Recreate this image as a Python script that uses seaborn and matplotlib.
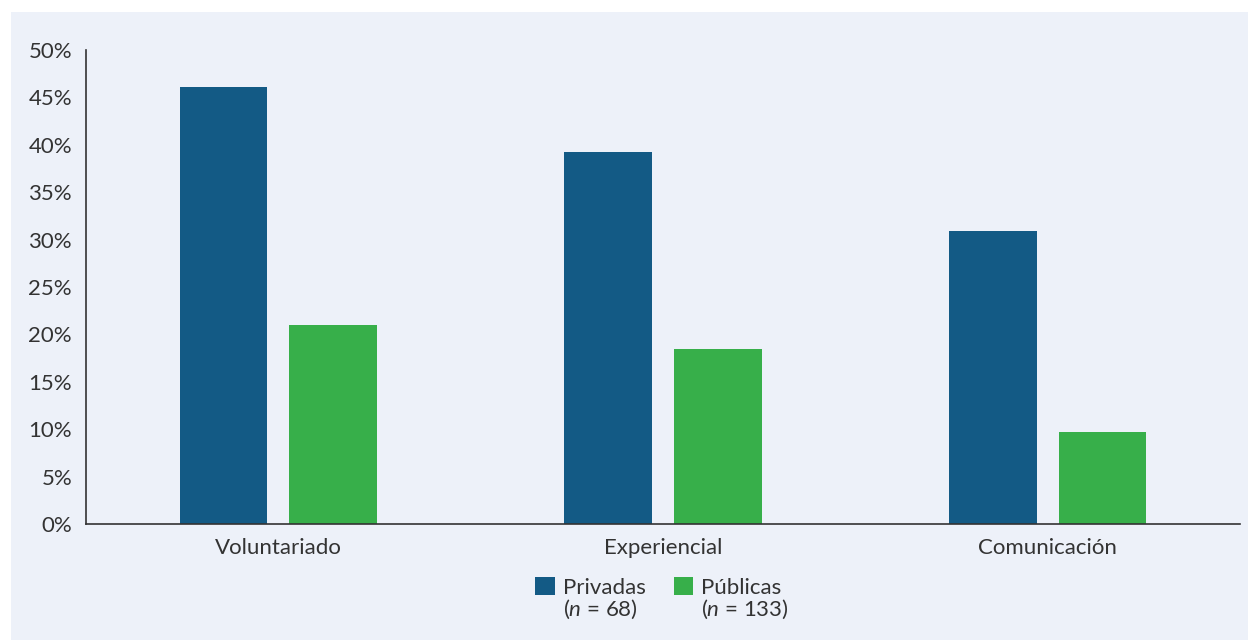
import pandas as pd
import matplotlib.pyplot as plt
import matplotlib.patches as mpatches
import seaborn as sns

# Values (percent)
categories = ['Voluntariado', 'Experiencial', 'Comunicación']
privadas = [46.1, 39.2, 30.9]
publicas = [21.0, 18.5, 9.7]
series_names = ['Privadas', 'Públicas']
series_n = ['68', '133']
yticks = [0, 5, 10, 15, 20, 25, 30, 35, 40, 45, 50]

colors = ['#135a85', '#37af4a']
panel_bg = '#edf1f9'
text_col = '#333333'

df = pd.DataFrame({
    'categoria': categories * 2,
    'tipo': [series_names[0]] * 3 + [series_names[1]] * 3,
    'valor': privadas + publicas,
})

sns.set_style('white')
plt.rcParams['font.family'] = ['Lato', 'DejaVu Sans']
plt.rcParams['mathtext.fontset'] = 'custom'
plt.rcParams['mathtext.it'] = 'Lato:italic'
plt.rcParams['mathtext.rm'] = 'Lato'

fs = 16

fig = plt.figure(figsize=(12.48, 6.4), dpi=100)
fig.patch.set_facecolor('white')
# light panel behind the chart
fig.patches.append(mpatches.Rectangle((11 / 1248, 0), 1, 1 - 12 / 640,
                                      transform=fig.transFigure,
                                      facecolor=panel_bg, edgecolor='none', zorder=-5))

ax = fig.add_axes([86 / 1248, 1 - 524 / 640, (1240 - 86) / 1248, (524 - 50) / 640])
ax.set_facecolor('none')

sns.barplot(data=df, x='categoria', y='valor', hue='tipo', palette=colors,
            width=0.57, gap=0.2, saturation=1, linewidth=0, ax=ax, legend=False)

ax.set_xlim(-0.5, 2.5)
ax.set_ylim(0, 50)
ax.set_yticks(yticks)
ax.set_yticklabels([f'{v}%' for v in yticks])
ax.set_xlabel('')
ax.set_ylabel('')
ax.tick_params(axis='both', length=0, labelsize=fs, colors=text_col)
ax.tick_params(axis='y', pad=10)
ax.tick_params(axis='x', pad=10)
for s in ['top', 'right']:
    ax.spines[s].set_visible(False)
for s in ['left', 'bottom']:
    ax.spines[s].set_color('#333333')
    ax.spines[s].set_linewidth(1.2)

handles = [mpatches.Patch(facecolor=c, edgecolor='none') for c in colors]
leg = fig.legend(handles, series_names, loc='upper center',
                 bbox_to_anchor=(0.5276, 1 - 557 / 640), ncol=2, frameon=False,
                 fontsize=fs, handlelength=0.88, handleheight=0.88,
                 handletextpad=0.36, columnspacing=1.26, labelcolor=text_col)

# second line of each legend label: (n = ...)
fig.canvas.draw()
for t, n in zip(leg.get_texts(), series_n):
    bb = t.get_window_extent()
    x0, y0 = fig.transFigure.inverted().transform((bb.x0, bb.y0))
    fig.text(x0, y0, f'($\\it{{n}}$ = {n})', ha='left', va='top',
             fontsize=fs, color=text_col)

fig.savefig('out.png', dpi=100, facecolor=fig.get_facecolor())
